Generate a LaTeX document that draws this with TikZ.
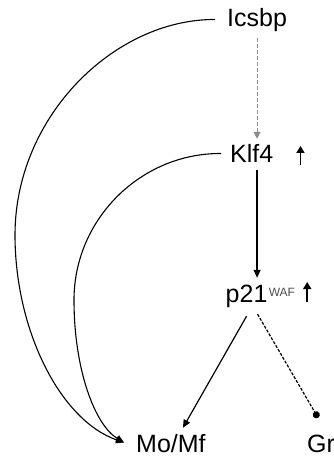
\documentclass[tikz,border=0pt]{standalone}
\usepackage{fontspec}
\setmainfont{Liberation Sans}
\usetikzlibrary{arrows.meta}
\begin{document}
\begin{tikzpicture}[x=1pt,y=-1pt,
  lbl/.style={anchor=base west,inner xsep=12pt,inner ysep=6pt,text height=18pt,text depth=5pt,font=\fontsize{25}{30}\selectfont},
  sup/.style={anchor=base west,inner sep=0pt,font=\fontsize{12}{14}\selectfont,text=black!70},
  conn/.style={line width=1.2pt,-{Triangle[length=8pt,width=7pt]}},
  curve/.style={line width=1.1pt,-{Triangle[length=8pt,width=7pt]}},
  graydash/.style={line width=1.1pt,draw=black!45,dash pattern=on 4pt off 2pt,-{Triangle[length=7pt,width=7pt,fill=black!45]}},
  dotdash/.style={line width=1.2pt,dash pattern=on 3pt off 1.5pt,-{Circle[length=7pt,width=7pt]}},
  uparrow/.style={line width=1.8pt,-{Triangle[length=7pt,width=8pt]}}]
\useasboundingbox (0,0) rectangle (333,457);
\node[lbl] (icsbp) at (215,27) {Icsbp};
\node[lbl] (klf4) at (218,163) {Klf4};
\node[lbl] (p21) at (213.5,302) {p21};
\node[sup] (waf) at ([shift={(-11pt,6pt)}]p21.base east) {WAF};
\node[lbl] (momf) at (124,452) {Mo/Mf};
\node[lbl] (gr) at (295,452) {Gr};
% vertical connectors
\draw[graydash] (icsbp.south) -- (icsbp.south |- klf4.north);
\draw[conn] ([yshift=4pt]icsbp.south |- klf4.south) -- (icsbp.south |- p21.north);
% up arrows
\draw[uparrow] ([shift={(15pt,-2pt)}]klf4.base east) -- ++(0,-19);
\draw[uparrow] ([shift={(12pt,-6pt)}]waf.base east) -- ++(0,-20);
% p21 to targets
\draw[conn] ([yshift=-3pt]p21.south) -- ([xshift=12pt]momf.north);
\draw[dotdash] ([shift={(11pt,-1pt)}]p21.south) -- ([shift={(-3pt,10pt)}]gr.north);
% long curves
\draw[curve] ([yshift=1pt]icsbp.west) .. controls (115,19) and (15,116) .. (15,235)
  .. controls (15,330) and (60,420) .. ([yshift=3pt]momf.west);
\draw[curve] ([shift={(3pt,3pt)}]klf4.west) .. controls (141,153) and (74,219) .. (74,300)
  .. controls (74,370) and (95,425) .. ([yshift=3pt]momf.west);
\end{tikzpicture}
\end{document}
